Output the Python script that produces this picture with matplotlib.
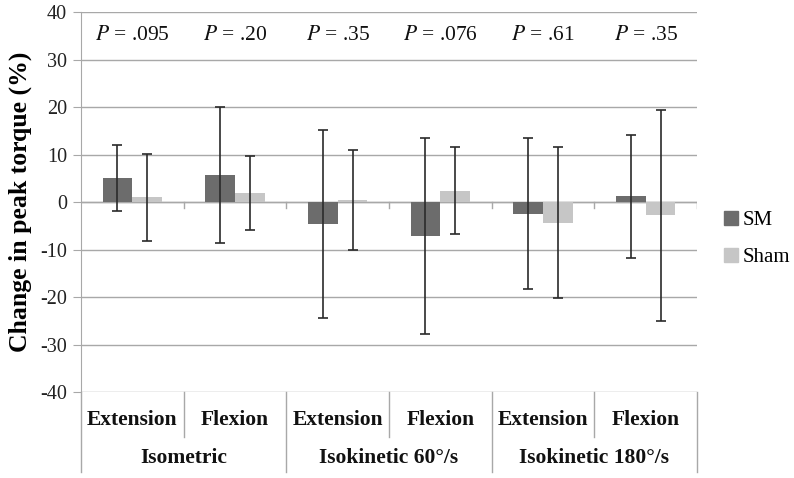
import matplotlib
matplotlib.use("Agg")
import matplotlib.pyplot as plt
from matplotlib.patches import Patch
from matplotlib.lines import Line2D
import numpy as np

plt.rcParams['font.family'] = ['Liberation Serif', 'DejaVu Serif']
plt.rcParams['mathtext.fontset'] = 'stix'

subcats = ["Extension", "Flexion", "Extension", "Flexion", "Extension", "Flexion"]
groups = ["Isometric", "Isokinetic 60°/s", "Isokinetic 180°/s"]
p_values = [".095", ".20", ".35", ".076", ".61", ".35"]
sm_mean = [5.0, 5.7, -4.6, -7.2, -2.5, 1.2]
sm_sd = [6.9, 14.4, 19.8, 20.6, 15.9, 12.9]
sham_mean = [1.0, 1.9, 0.4, 2.4, -4.4, -2.8]
sham_sd = [9.2, 7.8, 10.5, 9.2, 15.9, 22.2]
yticks = [-40, -30, -20, -10, 0, 10, 20, 30, 40]

W, H = 794, 478
fig = plt.figure(figsize=(W/100, H/100), dpi=100)
L, R, T, B = 81, 697, 12, 392
ax = fig.add_axes([L/W, 1-B/H, (R-L)/W, (B-T)/H])

x = np.arange(len(subcats))
bw = 0.29
sm_c = '#6c6c6c'
sh_c = '#c6c6c6'
ax.bar(x - bw/2, sm_mean, bw, color=sm_c, zorder=3)
ax.bar(x + bw/2, sham_mean, bw, color=sh_c, zorder=3)
ax.errorbar(x - bw/2, sm_mean, yerr=sm_sd, fmt='none', ecolor='#2a2a2a',
            elinewidth=1.2, capsize=3.5, capthick=1.2, zorder=4)
ax.errorbar(x + bw/2, sham_mean, yerr=sham_sd, fmt='none', ecolor='#2a2a2a',
            elinewidth=1.2, capsize=3.5, capthick=1.2, zorder=4)

ax.set_xlim(-0.5, len(subcats) - 0.5)
ax.set_ylim(-40, 40)
ax.set_yticks(yticks)
ax.set_yticklabels([str(v) for v in yticks], fontsize=14.5)
ax.set_xticks([])
ax.yaxis.grid(True, color='#a8a8a8', linewidth=1, zorder=0)
ax.tick_params(axis='y', length=6, color='#a8a8a8', pad=4, labelcolor='#222222')
for s in ['top', 'right', 'bottom']:
    ax.spines[s].set_visible(False)
ax.spines['left'].set_color('#a8a8a8')

# zero line with category ticks
ax.axhline(0, color='#a8a8a8', linewidth=1, zorder=2)
for b in np.arange(0.5, len(subcats), 1.0):
    ax.plot([b, b], [0, -1.2], color='#a8a8a8', linewidth=1, zorder=2)

ax.set_ylabel("Change in peak torque (%)", fontsize=18.5, fontweight='bold',
              labelpad=6)

for i, p in enumerate(p_values):
    ax.text(x[i], 35.0, r"$\mathit{P}$ = " + p, ha='center', va='center',
            fontsize=15.5, color='#111111')

# category table below axis
row1 = 1 - 420/H
row2 = 1 - 458/H
y_top = 1 - B/H
y_inner = 1 - 437/H
y_outer = 1 - 472/H
def fx(xd):
    return (L + (xd + 0.5) * (R - L) / len(subcats)) / W
for i, s in enumerate(subcats):
    fig.text(fx(i), row1, s, ha='center', va='center', fontsize=15.5,
             fontweight='bold', color='#111111')
for g, name in enumerate(groups):
    fig.text(fx(2*g + 0.5), row2, name, ha='center', va='center', fontsize=15.5,
             fontweight='bold', color='#111111')
for b in np.arange(-0.5, len(subcats), 1.0):
    xb = fx(b)
    idx = int(round(b + 0.5))
    ybot = y_outer if idx % 2 == 0 else y_inner
    fig.add_artist(Line2D([xb, xb], [y_top, ybot], color='#a8a8a8', linewidth=1,
                          transform=fig.transFigure))

handles = [Patch(color=sm_c), Patch(color=sh_c)]
fig.legend(handles, ["SM", "Sham"], loc='center left',
           bbox_to_anchor=(724/W, 1-239/H), frameon=False, fontsize=15,
           handlelength=0.65, handleheight=0.65, handletextpad=0.25,
           labelspacing=0.85, borderpad=0, borderaxespad=0)

fig.savefig("out.png", dpi=100)
